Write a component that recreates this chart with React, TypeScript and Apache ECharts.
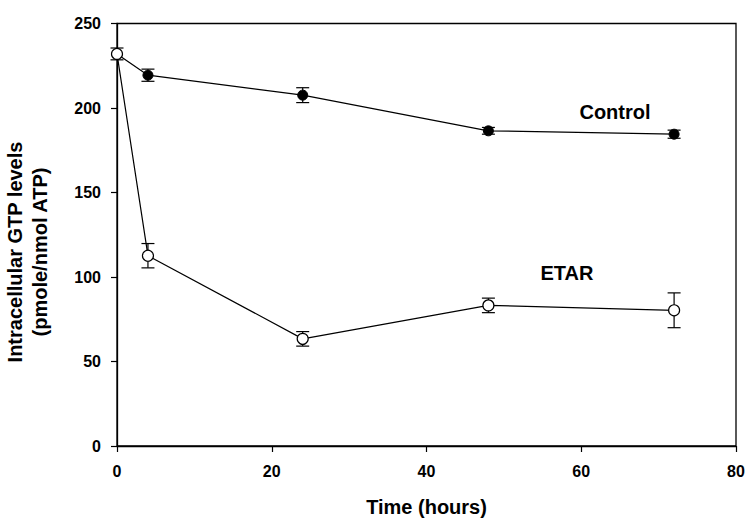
import React, { useEffect, useRef } from "react";
import * as echarts from "echarts";

const hours = [0, 4, 24, 48, 72];
const controlValues = [232, 219.4, 207.6, 186.5, 184.5];
const controlErrors = [3.5, 3.6, 4.4, 2, 2.4];
const etarValues = [232, 112.6, 63.4, 83.2, 80.3];
const etarErrors = [3.5, 7.2, 4.3, 4.3, 10.3];
const xTicks = [0, 20, 40, 60, 80];
const yTicks = [0, 50, 100, 150, 200, 250];

const FONT = '"Liberation Sans", Arial, Helvetica, sans-serif';

function errData(vals: number[], errs: number[], skipFirst: boolean) {
  const out: number[][] = [];
  hours.forEach((h, i) => {
    if (skipFirst && i === 0) return;
    out.push([h, vals[i] - errs[i], vals[i] + errs[i]]);
  });
  return out;
}

function errorSeries(data: number[][]) {
  return {
    type: "custom",
    data,
    z: 1,
    silent: true,
    encode: { x: 0, y: [1, 2] },
    renderItem: (params: any, api: any) => {
      const x = api.value(0);
      const lo = api.coord([x, api.value(1)]);
      const hi = api.coord([x, api.value(2)]);
      const hw = 6.5;
      const style = { stroke: "#000", lineWidth: 1.2 };
      return {
        type: "group",
        children: [
          { type: "line", shape: { x1: lo[0], y1: lo[1], x2: hi[0], y2: hi[1] }, style },
          { type: "line", shape: { x1: lo[0] - hw, y1: lo[1], x2: lo[0] + hw, y2: lo[1] }, style },
          { type: "line", shape: { x1: hi[0] - hw, y1: hi[1], x2: hi[0] + hw, y2: hi[1] }, style },
        ],
      };
    },
  };
}

export default function App() {
  const ref = useRef<HTMLDivElement>(null);
  useEffect(() => {
    document.body.style.margin = "0";
    if (!ref.current) return;
    const chart = echarts.init(ref.current, undefined, { renderer: "svg" });
    const controlData = hours.map((h, i) =>
      i === 0 ? { value: [h, controlValues[i]], symbol: "none" } : { value: [h, controlValues[i]] }
    );
    const etarData = hours.map((h, i) => [h, etarValues[i]]);
    chart.setOption({
      animation: false,
      backgroundColor: "#fff",
      grid: {
        left: 117,
        right: 13,
        top: 23.5,
        bottom: 75.5,
        show: true,
        borderColor: "#000",
        borderWidth: 1.3,
        backgroundColor: "transparent",
      },
      xAxis: {
        type: "value",
        min: xTicks[0],
        max: xTicks[xTicks.length - 1],
        interval: 20,
        axisLine: { show: true, lineStyle: { color: "#000", width: 1.3 } },
        axisTick: { show: true, length: 6, inside: false, lineStyle: { color: "#000", width: 1.2 } },
        splitLine: { show: false },
        axisLabel: {
          color: "#000",
          fontFamily: FONT,
          fontWeight: "bold",
          fontSize: 16,
          margin: 17,
        },
        name: "Time (hours)",
        nameLocation: "middle",
        nameGap: 51,
        nameTextStyle: { color: "#000", fontFamily: FONT, fontWeight: "bold", fontSize: 20 },
      },
      yAxis: {
        type: "value",
        min: yTicks[0],
        max: yTicks[yTicks.length - 1],
        interval: 50,
        axisLine: { show: true, lineStyle: { color: "#000", width: 1.3 } },
        axisTick: { show: true, length: 6, inside: false, lineStyle: { color: "#000", width: 1.2 } },
        splitLine: { show: false },
        axisLabel: {
          color: "#000",
          fontFamily: FONT,
          fontWeight: "bold",
          fontSize: 16,
          margin: 16,
        },
      },
      graphic: [
        {
          type: "text",
          x: 27,
          y: 252,
          rotation: Math.PI / 2,
          style: {
            text: "Intracellular GTP levels\n(pmole/nmol ATP)",
            fill: "#000",
            font: `bold 20px ${FONT}`,
            align: "center",
            verticalAlign: "middle",
            lineHeight: 25,
          },
        },
        {
          type: "text",
          x: 615,
          y: 112,
          style: {
            text: "Control",
            fill: "#000",
            font: `bold 20px ${FONT}`,
            align: "center",
            verticalAlign: "middle",
          },
        },
        {
          type: "text",
          x: 567,
          y: 273,
          style: {
            text: "ETAR",
            fill: "#000",
            font: `bold 20px ${FONT}`,
            align: "center",
            verticalAlign: "middle",
          },
        },
      ],
      series: [
        errorSeries(errData(controlValues, controlErrors, true)),
        {
          type: "line",
          name: "Control",
          data: controlData,
          z: 2,
          symbol: "circle",
          symbolSize: 10,
          lineStyle: { color: "#000", width: 1.2 },
          itemStyle: { color: "#000", borderColor: "#000", borderWidth: 1 },
        },
        errorSeries(errData(etarValues, etarErrors, false)),
        {
          type: "line",
          name: "ETAR",
          data: etarData,
          z: 3,
          symbol: "circle",
          symbolSize: 11,
          lineStyle: { color: "#000", width: 1.2 },
          itemStyle: { color: "#fff", borderColor: "#000", borderWidth: 1.2 },
        },
      ],
    });
    return () => chart.dispose();
  }, []);
  return <div ref={ref} style={{ width: 749, height: 522 }} />;
}
